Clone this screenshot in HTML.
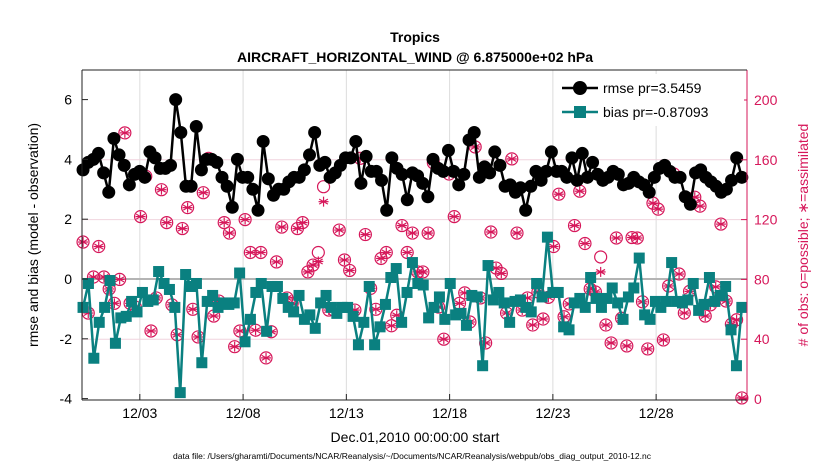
<!DOCTYPE html>
<html><head><meta charset="utf-8"><style>
body{margin:0;background:#fff;}
svg text{font-family:"Liberation Sans",sans-serif;}
</style></head><body>
<svg id="chart" width="830" height="470" viewBox="0 0 830 470" xmlns="http://www.w3.org/2000/svg">
<rect width="830" height="470" fill="#fff"/>
<text x="415" y="42" text-anchor="middle" font-size="14" font-weight="bold">Tropics</text>
<text x="415" y="62" text-anchor="middle" font-size="14" font-weight="bold">AIRCRAFT_HORIZONTAL_WIND @ 6.875000e+02 hPa</text>
<g id="grid"></g>
<g id="marks"></g>
<g id="axes"></g>
<text transform="translate(38,235) rotate(-90)" text-anchor="middle" font-size="14">rmse and bias (model - observation)</text>
<text transform="translate(808,235) rotate(-90)" text-anchor="middle" font-size="14" fill="#d6175a"># of obs: o=possible; ∗=assimilated</text>
<text x="415" y="442" text-anchor="middle" font-size="14">Dec.01,2010 00:00:00 start</text>
<text x="412" y="459" text-anchor="middle" font-size="8.5">data file: /Users/gharamti/Documents/NCAR/Reanalysis/~/Documents/NCAR/Reanalysis/webpub/obs_diag_output_2010-12.nc</text>
<g>
<rect x="556" y="74" width="188" height="52" fill="#fff"/>
<line x1="562" y1="88" x2="598" y2="88" stroke="#000" stroke-width="2.5"/>
<circle cx="580" cy="88" r="7" fill="#000"/>
<text x="603" y="93" font-size="14">rmse pr=3.5459</text>
<line x1="562" y1="112" x2="598" y2="112" stroke="#0a8080" stroke-width="2.5"/>
<rect x="574" y="106" width="12" height="12" fill="#0a8080"/>
<text x="603" y="117" font-size="14">bias pr=-0.87093</text>
</g>
</svg>
<script>
const xTickDays=[3,8,13,18,23,28];
const xTickLabels=["12/03","12/08","12/13","12/18","12/23","12/28"];
const yTicks=[-4,-2,0,2,4,6];
const y2Ticks=[0,40,80,120,160,200];
const rmse=[3.65,3.9,4.0,4.2,3.55,2.9,4.7,4.15,3.8,3.15,3.5,3.6,3.4,4.25,4.05,3.7,3.7,3.8,6.0,4.9,3.1,3.1,5.1,3.65,4.0,4.0,3.9,3.4,3.1,2.4,4.0,3.4,
3.4,3.0,2.3,4.6,3.35,2.8,3.0,3.0,3.25,3.4,3.4,3.65,4.15,4.9,3.8,3.9,3.4,3.55,3.8,4.05,4.05,4.6,3.2,4.1,3.6,3.6,3.3,2.3,4.05,3.7,3.5,2.65,3.55,
3.45,3.2,2.75,4.0,3.7,3.6,4.3,3.6,3.15,3.5,4.65,4.9,3.4,3.75,3.55,4.25,3.8,3.1,3.15,2.9,3.05,2.3,3.1,3.6,3.3,3.6,4.25,3.6,3.6,3.4,4.05,3.3,
4.2,3.4,3.9,3.5,3.3,3.4,3.6,3.5,3.15,3.2,3.4,3.25,3.15,2.9,3.4,3.7,3.8,3.6,3.4,3.4,2.75,2.5,3.55,3.65,3.4,3.25,3.1,2.9,3.0,3.3,4.05,3.4];
const bias=[-0.95,-0.15,-2.65,-1.45,-0.95,-0.05,-2.15,-1.3,-1.25,-0.75,-1.1,-0.45,-0.75,-0.7,0.25,-0.15,-0.35,-0.95,-3.8,0.15,-0.25,-0.15,-2.8,-0.75,-0.55,-0.95,-0.8,-0.85,-0.8,0.2,-2.1,-1.35,
-0.45,-0.15,-1.75,-0.25,-0.25,-0.65,-0.95,-1.1,-0.55,-1.35,-1.2,-1.65,-0.8,-0.55,-0.95,-1.15,-0.95,-0.95,-1.25,-2.2,-1.45,-0.25,-2.2,-1.6,-0.85,0.05,0.35,-1.45,-0.45,0.55,-0.15,
-0.2,-1.3,-0.95,-0.6,-1.35,-0.15,-1.2,-1.15,-1.55,-0.55,-0.6,-2.9,0.45,-0.7,-0.45,-0.8,-1.45,-0.75,-0.7,-0.95,-1.1,-0.15,-0.6,1.4,-0.45,-0.45,-1.6,-1.7,-0.8,-0.65,-0.95,0.05,
-0.65,-0.95,-0.65,-0.3,-0.8,-1.35,-0.6,-0.3,0.7,-1.2,-1.35,-0.75,-0.95,-0.75,0.55,-0.75,-0.8,-0.7,-0.15,-1.05,-0.85,0.05,-0.75,-0.55,-0.25,-1.7,-2.9,-0.95];
const obsPossible=[105,57.5,81.6,102,81.6,73.6,64,80,178,64,61.5,122,149,45.5,67.6,140,118,63,43,114,128,60,41.5,138,161,55.5,65.5,118,111,35,45.5,120,98,
46,98,27.5,45,91.7,115,67.6,64,114,118,85,89.6,98,142,59.5,59.5,113,93,86,59.5,161,110,74,60,94,98,49,56,116,98,111,85,
85,111,158,61.5,40,150.5,122,64,71,51.5,168.6,67.6,37.5,111.7,87.6,84,57.5,160.6,111,59.5,67.6,49.5,71.6,53.5,68,102,137,55,63.6,116,139,104,
73.6,71.6,95,49.5,37.5,107.7,54,35.5,108,107.7,65,33.5,131,127,39.5,75.6,150.5,83.6,57.5,72,135,129,55.5,63,75,117,65.5,50,53,0.7];
const obsAssim=[105,57.5,81.6,102,81.6,73.6,64,80,178,64,61.5,122,149,45.5,67.6,140,118,63,43,114,128,60,41.5,138,161,55.5,65.5,118,111,35,45.5,120,98,
46,98,27.5,45,91.7,115,67.6,64,114,118,85,89.6,92,132,59.5,59.5,113,93,86,59.5,161,110,74,60,94,98,49,56,116,98,111,85,
85,111,158,61.5,40,150.5,122,64,71,51.5,168.6,67.6,37.5,111.7,87.6,84,57.5,160.6,111,59.5,67.6,49.5,71.6,53.5,68,102,137,55,63.6,116,139,104,
73.6,71.6,85,49.5,37.5,107.7,54,35.5,108,107.7,65,33.5,131,127,39.5,75.6,150.5,83.6,57.5,72,135,129,55.5,63,75,117,65.5,50,53,0.7];

const L=82,R=747,T=70,B=400;
const xDom=[0.2,32.4];
const ns="http://www.w3.org/2000/svg";
function xs(d){return L+(d-xDom[0])/(xDom[1]-xDom[0])*(R-L);}
function ys(v){return 279-v*29.9;}
function y2s(c){return 399-c*299/200;}
function dayOf(i,n){return 0.25+i*(31.9/(n-1));}
function el(tag,attrs,parent){const e=document.createElementNS(ns,tag);for(const k in attrs)e.setAttribute(k,attrs[k]);parent.appendChild(e);return e;}
const grid=document.getElementById('grid'),marks=document.getElementById('marks'),axes=document.getElementById('axes');
el('rect',{x:L,y:T,width:R-L,height:B-T,fill:'#fff'},grid);
xTickDays.forEach((d,i)=>{
 const g=el('line',{x1:xs(d),x2:xs(d),y1:T,y2:B,stroke:'#dcdcdc','stroke-width':1},grid);
 
 
 el('line',{x1:xs(d),x2:xs(d),y1:B,y2:B-6,stroke:'#222'},axes);
 const t=el('text',{x:xs(d),y:418,'text-anchor':'middle','font-size':14},axes);
 t.textContent=xTickLabels[i];
 
 
});
y2Ticks.forEach(c=>{
 if(c>0&&c<200){const g=el('line',{x1:L,x2:R,y1:y2s(c),y2:y2s(c),stroke:'#f0d4de','stroke-width':1},grid);
 
 }
 el('line',{x1:R,x2:R-6,y1:y2s(c),y2:y2s(c),stroke:'#d6175a'},axes);
 const t=el('text',{x:754,y:y2s(c)+5,'font-size':14,fill:'#d6175a'},axes);
 t.textContent=c;
 
 
});
const zl=el('line',{x1:L,x2:R,y1:ys(0),y2:ys(0),stroke:'#b4b4b4','stroke-width':2},grid);


yTicks.forEach(v=>{
 el('line',{x1:L,x2:L+6,y1:ys(v),y2:ys(v),stroke:'#222'},axes);
 const t=el('text',{x:L-10,y:ys(v)+5,'text-anchor':'end','font-size':14},axes);
 t.textContent=v;
 
 
});
el('line',{x1:L,x2:L,y1:T,y2:B,stroke:'#222'},axes);
el('line',{x1:L,x2:R,y1:B,y2:B,stroke:'#222'},axes);
el('line',{x1:R,x2:R,y1:T,y2:B,stroke:'#d6175a'},axes);
el('line',{x1:L,x2:R,y1:T,y2:T,stroke:'#222'},axes);
const pink='#d6175a';
obsPossible.forEach((c,i)=>{
 const cx=xs(dayOf(i,obsPossible.length)),cy=y2s(c);
 const o=el('circle',{cx:cx,cy:cy,r:6,fill:'none',stroke:pink,'stroke-width':1.2},marks);
 
 
});
obsAssim.forEach((c,i)=>{
 const cx=xs(dayOf(i,obsAssim.length)),cy=y2s(c);
 const g=el('g',{stroke:pink,'stroke-width':1.2},marks);
 
 
 for(let a=0;a<3;a++){const an=a*Math.PI/3+Math.PI/2;el('line',{x1:cx-5*Math.cos(an),y1:cy-5*Math.sin(an),x2:cx+5*Math.cos(an),y2:cy+5*Math.sin(an)},g);}
 el('line',{x1:cx-5,y1:cy,x2:cx+5,y2:cy},g);
});
const bp=bias.map((v,i)=>xs(dayOf(i,bias.length))+','+ys(v)).join(' ');
const bl=el('polyline',{points:bp,fill:'none',stroke:'#0a8080','stroke-width':2.5},marks);


bias.forEach((v,i)=>{
 const r=el('rect',{x:xs(dayOf(i,bias.length))-5.5,y:ys(v)-5.5,width:11,height:11,fill:'#0a8080'},marks);
 
 
});
const rp=rmse.map((v,i)=>xs(dayOf(i,rmse.length))+','+ys(v)).join(' ');
const rl=el('polyline',{points:rp,fill:'none',stroke:'#000','stroke-width':2.5},marks);


rmse.forEach((v,i)=>{
 const c=el('circle',{cx:xs(dayOf(i,rmse.length)),cy:ys(v),r:6.5,fill:'#000'},marks);
 
 
});
</script>
</body></html>
